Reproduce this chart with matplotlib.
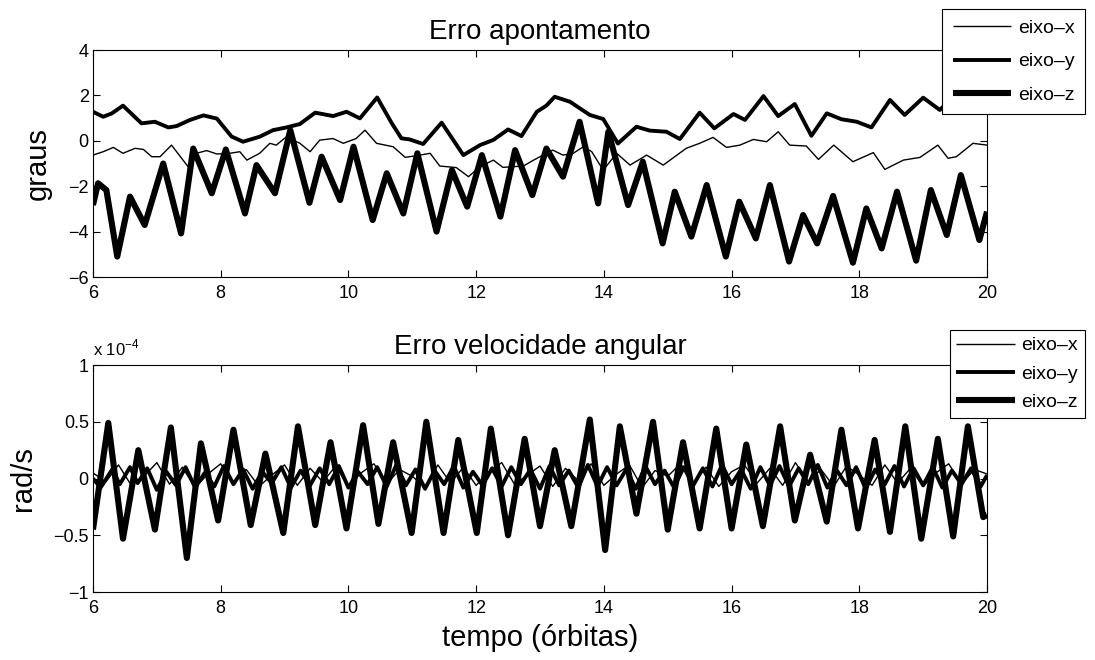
import numpy as np
import matplotlib
matplotlib.use('Agg')
import matplotlib.pyplot as plt

plt.rcParams['font.family'] = ['Liberation Sans', 'DejaVu Sans']

# --- Erro apontamento (graus) ---
ang_x_t = [6.0, 6.16, 6.32, 6.47, 6.66, 6.79, 6.92, 7.05, 7.23, 7.41, 7.49, 7.62, 7.78, 7.94, 8.14, 8.30,
           8.41, 8.61, 8.77, 8.87, 9.03, 9.24, 9.40, 9.55, 9.76, 9.92, 10.12, 10.26, 10.44, 10.70, 10.89,
           11.12, 11.28, 11.43, 11.69, 11.88, 12.06, 12.27, 12.42, 12.74, 12.90, 13.10, 13.20, 13.36, 13.52,
           13.68, 13.81, 13.99, 14.20, 14.41, 14.67, 14.93, 15.29, 15.50, 15.71, 15.92, 16.13, 16.34, 16.55,
           16.73, 16.91, 17.17, 17.36, 17.60, 17.90, 18.22, 18.40, 18.69, 18.95, 19.23, 19.39, 19.52, 19.78, 20.0]
ang_x = [-0.63, -0.48, -0.29, -0.55, -0.33, -0.38, -0.70, -0.70, -0.19, -0.85, -1.14, -0.55, -0.43, -0.58, -0.55, -0.48,
         -0.85, -0.55, -0.11, -0.19, 0.18, -0.11, -0.48, 0.03, 0.10, -0.11, 0.10, 0.47, -0.11, -0.26, -0.73,
         -0.63, -0.55, -1.11, -1.18, -1.58, -1.14, -0.85, -1.17, -1.11, -0.85, -0.55, -0.41, -0.63, -0.55,
         -0.26, -0.48, -1.29, -0.55, -1.07, -0.63, -1.07, -0.33, -0.11, 0.15, -0.29, -0.19, 0.06, -0.04,
         0.40, -0.19, -0.23, -0.82, -0.19, -0.92, -0.52, -1.26, -0.85, -0.73, -0.19, -0.77, -0.70, -0.11, -0.19]

ang_y_t = [6.0, 6.16, 6.29, 6.47, 6.76, 6.97, 7.18, 7.31, 7.52, 7.73, 7.94, 8.17, 8.35, 8.61, 8.82, 9.03, 9.24,
           9.48, 9.76, 9.97, 10.18, 10.45, 10.68, 10.83, 10.96, 11.17, 11.46, 11.80, 12.06, 12.27, 12.50, 12.71,
           12.95, 13.10, 13.23, 13.47, 13.78, 13.99, 14.22, 14.51, 14.72, 14.98, 15.19, 15.50, 15.73, 16.03,
           16.21, 16.50, 16.73, 16.99, 17.25, 17.49, 17.72, 17.96, 18.19, 18.48, 18.71, 19.00, 19.26, 19.39,
           19.60, 19.85, 20.0]
ang_y = [1.28, 1.06, 1.20, 1.55, 0.77, 0.84, 0.59, 0.65, 0.92, 1.12, 0.98, 0.19, -0.04, 0.18, 0.47, 0.59, 0.74,
         1.24, 1.09, 1.28, 0.99, 1.91, 0.77, 0.11, 0.06, -0.14, 0.80, -0.63, -0.19, 0.04, 0.50, 0.21,
         1.28, 1.55, 1.94, 1.72, 1.14, 0.96, -0.12, 0.62, 0.45, 0.40, 0.08, 1.24, 0.55, 1.18,
         0.92, 1.97, 1.09, 1.62, 0.22, 1.21, 0.95, 0.84, 0.59, 1.80, 1.14, 1.90, 1.36, 1.72,
         1.55, 2.00, 1.85]

ang_z_t = [6.0, 6.08, 6.21, 6.38, 6.58, 6.81, 7.10, 7.38, 7.57, 7.86, 8.08, 8.38, 8.56, 8.85, 9.09, 9.39,
           9.58, 9.87, 10.08, 10.38, 10.60, 10.86, 11.08, 11.38, 11.62, 11.86, 12.09, 12.38, 12.61, 12.88,
           13.10, 13.36, 13.62, 13.91, 14.07, 14.38, 14.61, 14.92, 15.11, 15.37, 15.61, 15.91, 16.12, 16.38,
           16.60, 16.90, 17.12, 17.34, 17.59, 17.90, 18.11, 18.35, 18.59, 18.89, 19.12, 19.37, 19.59, 19.88, 20.0]
ang_z = [-2.83, -1.87, -2.17, -5.10, -2.46, -3.71, -1.00, -4.08, -0.34, -2.31, -0.38, -3.20, -1.07, -2.31, 0.47, -2.73,
         -0.70, -2.61, -0.26, -3.49, -1.43, -3.20, -0.55, -4.00, -1.29, -2.90, -0.63, -3.34, -0.41, -2.39,
         -0.34, -1.58, 0.84, -2.76, 0.40, -2.83, -0.92, -4.52, -2.24, -4.22, -1.95, -5.10, -2.68, -4.30,
         -1.95, -5.32, -3.27, -4.52, -2.43, -5.37, -2.98, -4.74, -2.24, -5.28, -2.17, -4.15, -1.51, -4.37, -3.12]

# --- Erro velocidade angular (x 1e-4 rad/s) ---
vel_z_t = [6.0, 6.24, 6.47, 6.71, 6.97, 7.22, 7.47, 7.69, 7.96, 8.20, 8.47, 8.70, 8.98, 9.21, 9.48, 9.72,
           9.97, 10.23, 10.47, 10.70, 10.99, 11.22, 11.49, 11.72, 12.01, 12.23, 12.50, 12.76, 13.00, 13.23,
           13.49, 13.78, 14.02, 14.25, 14.51, 14.77, 15.00, 15.24, 15.50, 15.76, 16.00, 16.23, 16.49, 16.76,
           16.99, 17.23, 17.49, 17.72, 17.98, 18.24, 18.48, 18.72, 18.97, 19.23, 19.47, 19.70, 19.94, 20.0]
vel_z = [-0.45, 0.49, -0.53, 0.25, -0.45, 0.45, -0.70, 0.31, -0.37, 0.43, -0.41, 0.22, -0.48, 0.46, -0.41, 0.32,
         -0.44, 0.47, -0.40, 0.32, -0.48, 0.50, -0.48, 0.34, -0.48, 0.44, -0.50, 0.35, -0.42, 0.25,
         -0.42, 0.52, -0.63, 0.46, -0.31, 0.50, -0.45, 0.32, -0.44, 0.44, -0.44, 0.30, -0.42, 0.46,
         -0.37, 0.21, -0.38, 0.43, -0.44, 0.34, -0.47, 0.46, -0.53, 0.35, -0.51, 0.46, -0.34, -0.32]

vel_y_t = [6.0, 6.12, 6.30, 6.42, 6.58, 6.70, 6.85, 7.00, 7.15, 7.30, 7.45, 7.60, 7.75, 7.90, 8.05, 8.20,
           8.35, 8.50, 8.65, 8.80, 8.95, 9.10, 9.25, 9.40, 9.55, 9.70, 9.85, 10.00, 10.15, 10.30, 10.45,
           10.60, 10.75, 10.90, 11.05, 11.20, 11.35, 11.50, 11.65, 11.80, 11.95, 12.10, 12.25, 12.40, 12.55,
           12.70, 12.85, 13.00, 13.15, 13.30, 13.45, 13.60, 13.75, 13.90, 14.05, 14.20, 14.35, 14.50, 14.65,
           14.80, 14.95, 15.10, 15.25, 15.40, 15.55, 15.70, 15.85, 16.00, 16.15, 16.30, 16.45, 16.60, 16.75,
           16.90, 17.05, 17.20, 17.35, 17.50, 17.65, 17.80, 17.95, 18.10, 18.25, 18.40, 18.55, 18.70, 18.85,
           19.00, 19.15, 19.30, 19.45, 19.60, 19.75, 19.90, 20.0]
vel_y = [0.00, -0.08, 0.08, -0.05, 0.10, -0.04, 0.09, -0.10, 0.06, -0.06, 0.10, -0.08, 0.05, -0.07, 0.11, -0.05,
         0.08, -0.09, 0.06, -0.04, 0.10, -0.08, 0.07, -0.06, 0.09, -0.05, 0.11, -0.08, 0.06, -0.05, 0.10,
         -0.07, 0.12, -0.06, 0.08, -0.09, 0.07, -0.05, 0.11, -0.08, 0.06, -0.06, 0.09, -0.07, 0.10,
         -0.05, 0.08, -0.09, 0.11, -0.06, 0.07, -0.08, 0.12, -0.07, 0.10, -0.06, 0.08, -0.09, 0.11,
         -0.05, 0.07, -0.08, 0.10, -0.06, 0.09, -0.07, 0.12, -0.05, 0.08, -0.09, 0.10, -0.06, 0.11,
         -0.07, 0.09, -0.05, 0.12, -0.08, 0.07, -0.06, 0.10, -0.09, 0.08, -0.05, 0.11, -0.07, 0.09,
         -0.06, 0.10, -0.08, 0.07, -0.05, 0.09, -0.07, 0.03]

vel_x_t = [6.0, 6.20, 6.40, 6.60, 6.80, 7.00, 7.20, 7.40, 7.60, 7.80, 8.00, 8.20, 8.40, 8.60, 8.80, 9.00,
           9.20, 9.40, 9.60, 9.80, 10.00, 10.20, 10.40, 10.60, 10.80, 11.00, 11.20, 11.40, 11.60, 11.80, 12.00,
           12.20, 12.40, 12.60, 12.80, 13.00, 13.20, 13.40, 13.60, 13.80, 14.00, 14.20, 14.40, 14.60, 14.80,
           15.00, 15.20, 15.40, 15.60, 15.80, 16.00, 16.20, 16.40, 16.60, 16.80, 17.00, 17.20, 17.40, 17.60,
           17.80, 18.00, 18.20, 18.40, 18.60, 18.80, 19.00, 19.20, 19.40, 19.60, 19.80, 20.0]
vel_x = [0.05, -0.03, 0.12, -0.06, 0.02, 0.14, -0.05, 0.10, -0.08, 0.04, 0.13, -0.04, 0.08, -0.07, 0.03, 0.12,
         -0.06, 0.09, -0.03, 0.11, -0.07, 0.05, 0.13, -0.05, 0.08, 0.02, -0.08, 0.12, -0.04, 0.10, -0.06,
         0.06, 0.14, -0.05, 0.03, 0.11, -0.07, 0.09, -0.02, 0.13, -0.06, 0.04, 0.12, -0.08, 0.07,
         0.02, 0.13, -0.05, 0.10, -0.07, 0.06, 0.12, -0.04, 0.09, -0.06, 0.14, -0.03, 0.08, -0.07,
         0.11, 0.03, -0.06, 0.12, -0.04, 0.09, -0.07, 0.05, 0.13, -0.05, 0.08, 0.04]

labels = ['eixo\u2013x', 'eixo\u2013y', 'eixo\u2013z']
widths = [1.0, 2.8, 4.4]

fig = plt.figure(figsize=(10.95, 6.6), dpi=100)
ax1 = fig.add_axes([0.0849, 0.5803, 0.8165, 0.3439])
ax2 = fig.add_axes([0.0849, 0.1030, 0.8165, 0.3439])

for t, v, lw, lab in zip([ang_x_t, ang_y_t, ang_z_t], [ang_x, ang_y, ang_z], widths, labels):
    ax1.plot(t, v, color='black', lw=lw, label=lab, solid_joinstyle='round', solid_capstyle='butt')
for t, v, lw, lab in zip([vel_x_t, vel_y_t, vel_z_t], [vel_x, vel_y, vel_z], widths, labels):
    ax2.plot(t, v, color='black', lw=lw, label=lab, solid_joinstyle='round', solid_capstyle='butt')

ax1.set_xlim(6, 20)
ax1.set_ylim(-6, 4)
ax1.set_yticks([-6, -4, -2, 0, 2, 4])
ax1.set_yticklabels(['\u22126', '\u22124', '\u22122', '0', '2', '4'])
ax2.set_xlim(6, 20)
ax2.set_ylim(-1, 1)
ax2.set_yticks([-1, -0.5, 0, 0.5, 1])
ax2.set_yticklabels(['\u22121', '\u22120.5', '0', '0.5', '1'])

for ax in (ax1, ax2):
    ax.set_xticks([6, 8, 10, 12, 14, 16, 18, 20])
    ax.tick_params(direction='in', top=True, right=True, length=5, width=0.8, labelsize=13)
    ax.tick_params(axis='x', pad=6)
    ax.tick_params(axis='y', pad=3)
    for s in ax.spines.values():
        s.set_linewidth(0.8)

ax1.set_title('Erro apontamento', fontsize=20, pad=8)
ax2.set_title('Erro velocidade angular', fontsize=20, pad=8)
ax1.set_ylabel('graus', fontsize=21, labelpad=12)
ax2.set_ylabel('rad/s', fontsize=21, labelpad=12)
ax2.set_xlabel('tempo (órbitas)', fontsize=21, labelpad=5)
ax2.text(0.0, 1.03, 'x 10$^{\\mathregular{-4}}$', transform=ax2.transAxes, fontsize=12, ha='left', va='bottom')

leg1 = ax1.legend(loc='upper right', bbox_to_anchor=(0.9909, 0.9864), bbox_transform=fig.transFigure,
                  fancybox=False, edgecolor='black', framealpha=1, fontsize=14, handlelength=3.0,
                  handletextpad=0.35, labelspacing=0.8, borderpad=0.55, borderaxespad=0)
leg1.get_frame().set_linewidth(0.8)
leg2 = ax2.legend(loc='upper right', bbox_to_anchor=(0.9909, 0.5), bbox_transform=fig.transFigure,
                  fancybox=False, edgecolor='black', framealpha=1, fontsize=14, handlelength=3.0,
                  handletextpad=0.35, labelspacing=0.55, borderpad=0.35, borderaxespad=0)
leg2.get_frame().set_linewidth(0.8)

fig.savefig('out.png', dpi=100)
